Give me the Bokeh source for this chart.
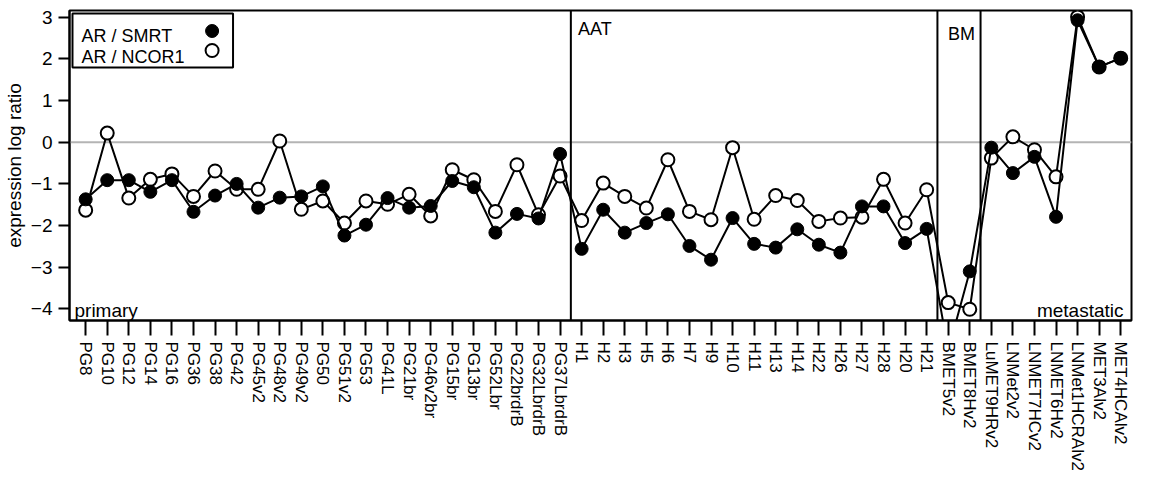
from bokeh.plotting import figure
from bokeh.models import Range1d, FixedTicker, Span, Label, BoxAnnotation
from bokeh.embed import file_html
from bokeh.resources import INLINE

categories = ["PG8", "PG10", "PG12", "PG14", "PG16", "PG36", "PG38", "PG42", "PG45v2",
              "PG48v2", "PG49v2", "PG50", "PG51v2", "PG53", "PG41L", "PG21br", "PG46v2br",
              "PG15br", "PG13br", "PG52Lbr", "PG22brdrB", "PG32LbrdrB", "PG37LbrdrB",
              "H1", "H2", "H3", "H5", "H6", "H7", "H9", "H10", "H11", "H13", "H14", "H22",
              "H26", "H27", "H28", "H20", "H21",
              "BMET5v2", "BMET8Hv2",
              "LuMET9HRv2", "LNMet2v2", "LNMET7HCv2", "LNMET6Hv2", "LNMet1HCRAlv2",
              "MET3Alv2", "MET4HCAlv2"]

smrt = [-1.37, -0.91, -0.91, -1.19, -0.91, -1.67, -1.28, -1.00, -1.57, -1.33,
        -1.30, -1.06, -2.24, -1.98, -1.34, -1.57, -1.53, -0.93, -1.08, -2.17,
        -1.72, -1.83, -0.28, -2.56, -1.62, -2.17, -1.94, -1.73, -2.49, -2.82,
        -1.82, -2.44, -2.53, -2.09, -2.46, -2.65, -1.54, -1.54, -2.42, -2.08,
        -5.00, -3.10, -0.13, -0.74, -0.35, -1.79, 2.93, 1.81, 2.02]

ncor1 = [-1.63, 0.22, -1.34, -0.89, -0.76, -1.30, -0.69, -1.13, -1.13, 0.03,
         -1.61, -1.41, -1.94, -1.41, -1.49, -1.25, -1.77, -0.66, -0.90, -1.66,
         -0.54, -1.74, -0.81, -1.88, -0.98, -1.30, -1.58, -0.42, -1.66, -1.86,
         -0.13, -1.85, -1.28, -1.40, -1.90, -1.82, -1.80, -0.89, -1.94, -1.14,
         -3.85, -4.01, -0.38, 0.13, -0.18, -0.83, 3.01, 1.81, 2.02]

group_bounds = [22.5, 39.5, 41.5]
y_ticks = [-4, -3, -2, -1, 0, 1, 2, 3]

FONT = "Liberation Sans"
OX, OY = 8, 0
W, H = 1133, 479
FL, FR, FT, FB = 66, 2, 10, 159
x0, x1 = -0.75, 48.5
y0, y1 = -4.28, 3.164
fw = W - FL - FR
fh = H - FT - FB


def px_x(ix):
    return x0 + (ix - OX - FL) / fw * (x1 - x0)


def px_y(iy):
    return y1 - (iy - OY - FT) / fh * (y1 - y0)


p = figure(width=W, height=H, x_range=Range1d(x0, x1), y_range=Range1d(y0, y1),
           output_backend="svg", toolbar_location=None,
           min_border_left=FL, min_border_right=FR, min_border_top=FT, min_border_bottom=FB)
p.xgrid.visible = False
p.ygrid.visible = False
p.outline_line_color = "black"
p.outline_line_width = 2
p.outline_line_alpha = 1
p.background_fill_color = "white"
p.border_fill_color = "white"

xs = list(range(len(categories)))

# axes
p.xaxis.ticker = FixedTicker(ticks=xs)
p.xaxis.major_label_overrides = {i: c for i, c in enumerate(categories)}
p.xaxis.major_label_orientation = "vertical"
p.xaxis.major_label_text_font = FONT
p.xaxis.major_label_text_font_size = "17px"
p.xaxis.major_label_text_color = "black"
p.xaxis.major_tick_out = 15
p.xaxis.major_tick_in = 0
p.xaxis.minor_tick_line_color = None
p.xaxis.major_tick_line_width = 2
p.xaxis.major_tick_line_color = "black"
p.xaxis.axis_line_width = 2
p.xaxis.major_label_standoff = 6

p.yaxis.ticker = FixedTicker(ticks=y_ticks)
p.yaxis.major_label_text_font = FONT
p.yaxis.major_label_text_font_size = "19px"
p.yaxis.major_label_text_color = "black"
p.yaxis.major_tick_out = 11
p.yaxis.major_tick_in = 0
p.yaxis.minor_tick_line_color = None
p.yaxis.major_tick_line_width = 2
p.yaxis.major_tick_line_color = "black"
p.yaxis.axis_line_width = 2
p.yaxis.major_label_standoff = 6
p.yaxis.axis_label = "expression log ratio"
p.yaxis.axis_label_text_font = FONT
p.yaxis.axis_label_text_font_size = "19px"
p.yaxis.axis_label_text_font_style = "normal"
p.yaxis.axis_label_text_color = "black"
p.yaxis.axis_label_standoff = 3

# reference lines
p.add_layout(Span(location=0, dimension="width", line_color="#b4b4b4", line_width=2, level="underlay"))
for b in group_bounds:
    p.add_layout(Span(location=b, dimension="height", line_color="black", line_width=2, level="underlay"))

# series
p.line(xs, ncor1, line_color="black", line_width=2)
p.scatter(xs, ncor1, marker="circle", size=13, fill_color="white", line_color="black", line_width=2)
p.line(xs, smrt, line_color="black", line_width=2)
p.scatter(xs, smrt, marker="circle", size=13, fill_color="black", line_color="black", line_width=1)

# group labels
for txt, ix, iy in [("AAT", 584, 28), ("BM", 955, 33)]:
    p.add_layout(Label(x=px_x(ix), y=px_y(iy), text=txt, text_font=FONT, text_font_size="18px",
                       text_color="black", text_baseline="alphabetic", text_align="left"))
p.add_layout(Label(x=px_x(79), y=px_y(310), text="primary", text_font=FONT, text_font_size="19px",
                   text_color="black", text_baseline="alphabetic", text_align="left"))
p.add_layout(Label(x=px_x(1131), y=px_y(310), text="metastatic", text_font=FONT, text_font_size="19px",
                   text_color="black", text_baseline="alphabetic", text_align="right"))

# legend box
p.add_layout(BoxAnnotation(left=px_x(77), right=px_x(238), top=px_y(13), bottom=px_y(67),
                           fill_color="white", fill_alpha=1, line_color="black", line_width=2,
                           line_alpha=1, level="annotation"))
p.add_layout(Label(x=px_x(86), y=px_y(35), text="AR / SMRT", text_font=FONT, text_font_size="18px",
                   text_color="black", text_baseline="alphabetic", level="overlay"))
p.add_layout(Label(x=px_x(86), y=px_y(56.5), text="AR / NCOR1", text_font=FONT, text_font_size="18px",
                   text_color="black", text_baseline="alphabetic", level="overlay"))
lg1 = p.scatter([px_x(217)], [px_y(30.5)], marker="circle", size=13, fill_color="black",
                line_color="black", line_width=1, level="overlay")
lg2 = p.scatter([px_x(217)], [px_y(50)], marker="circle", size=13, fill_color="white",
                line_color="black", line_width=2, level="overlay")

open("out.html", "w").write(file_html(p, INLINE))
